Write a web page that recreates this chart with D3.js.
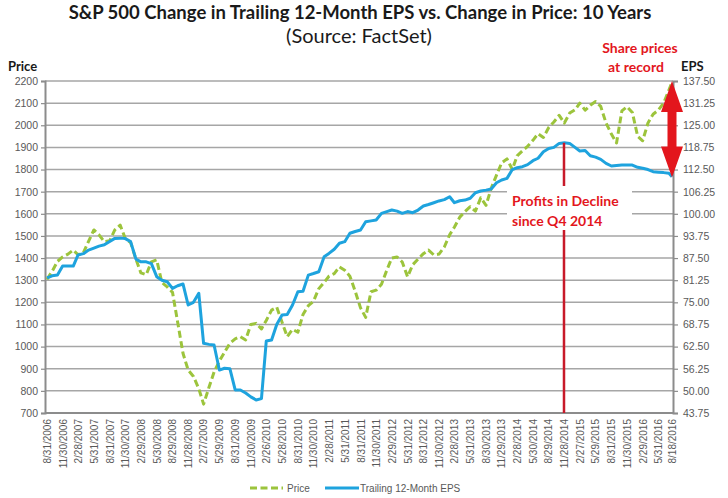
<!DOCTYPE html>
<html>
<head>
<meta charset="utf-8">
<script src="https://cdn.jsdelivr.net/npm/d3@7"></script>
<style>
  html, body { margin: 0; padding: 0; background: #ffffff; }
  svg { display: block; }
</style>
</head>
<body>
<svg id="chart" width="728" height="498"></svg>
<script>
// ---------------- DATA ----------------
// Month-end observations, Aug 2006 ... Jul 2016, plus 8/18/2016
const firstMonth = "2006-08";
const lastDate = "8/18/2016";

const priceValues = [
  1304, 1340, 1385, 1405, 1418, 1436, 1415, 1425, 1475, 1527, 1505, 1474,
  1478, 1527, 1549, 1488, 1470, 1395, 1333, 1325, 1383, 1392, 1290, 1270,
  1245, 1110, 970, 894, 865, 810, 740, 815, 885, 935, 975, 1015,
  1035, 1045, 1030, 1100, 1105, 1080, 1118, 1165, 1178, 1110, 1045, 1078,
  1065, 1145, 1185, 1205, 1262, 1290, 1318, 1330, 1360, 1345, 1318, 1250,
  1175, 1132, 1248, 1255, 1282, 1345, 1400, 1405, 1382, 1315, 1370, 1395,
  1420, 1436, 1414, 1418, 1450, 1505, 1540, 1585, 1610, 1632, 1612, 1672,
  1638, 1715, 1775, 1830, 1848, 1800, 1862, 1885, 1905, 1932, 1962, 1945,
  1990, 2015, 2045, 2010, 2055, 2070, 2100, 2068, 2090, 2107, 2085, 2010,
  1960, 1920, 2065, 2084, 2058, 1950, 1930, 2010, 2050, 2069, 2100, 2159,
  2195
];

const epsValues = [
  81.88, 82.50, 82.69, 85.25, 85.25, 85.25, 88.38, 88.75, 89.75, 90.31, 90.88, 91.25,
  92.19, 93.06, 93.13, 93.00, 92.13, 87.19, 86.44, 86.44, 85.94, 82.25, 81.25, 80.81,
  78.94, 79.69, 80.19, 74.25, 75.00, 77.56, 63.44, 63.13, 62.94, 55.88, 56.38, 56.25,
  50.25, 50.25, 49.38, 48.31, 47.44, 47.81, 64.06, 64.38, 68.75, 71.44, 71.56, 74.25,
  78.00, 78.13, 82.69, 83.13, 83.63, 87.88, 88.81, 90.00, 91.69, 92.13, 94.50, 95.00,
  95.44, 97.75, 98.00, 98.25, 100.13, 100.63, 101.06, 100.75, 100.13, 100.63, 100.31, 101.06,
  102.19, 102.63, 103.13, 103.63, 104.00, 104.81, 103.13, 103.69, 103.88, 104.38, 105.94, 106.44,
  106.69, 107.00, 108.75, 109.56, 110.00, 112.50, 113.00, 113.31, 113.88, 115.00, 115.69, 117.50,
  118.44, 118.75, 119.88, 120.06, 119.88, 118.75, 117.75, 117.88, 116.38, 116.00, 115.38, 114.25,
  113.50, 113.63, 113.75, 113.75, 113.75, 113.13, 112.88, 112.50, 111.88, 111.75, 111.63, 111.44,
  110.50
];

const xTickLabels = [
  "8/31/2006", "11/30/2006",
  "2/28/2007", "5/31/2007", "8/31/2007", "11/30/2007",
  "2/29/2008", "5/30/2008", "8/29/2008", "11/28/2008",
  "2/27/2009", "5/29/2009", "8/31/2009", "11/30/2009",
  "2/26/2010", "5/28/2010", "8/31/2010", "11/30/2010",
  "2/28/2011", "5/31/2011", "8/31/2011", "11/30/2011",
  "2/29/2012", "5/31/2012", "8/31/2012", "11/30/2012",
  "2/28/2013", "5/31/2013", "8/30/2013", "11/29/2013",
  "2/28/2014", "5/30/2014", "8/29/2014", "11/28/2014",
  "2/27/2015", "5/29/2015", "8/31/2015", "11/30/2015",
  "2/29/2016", "5/31/2016", "8/18/2016"
];

const priceTicks = [700, 800, 900, 1000, 1100, 1200, 1300, 1400, 1500, 1600, 1700, 1800, 1900, 2000, 2100, 2200];
const epsTicks = [43.75, 50.00, 56.25, 62.50, 68.75, 75.00, 81.25, 87.50, 93.75, 100.00, 106.25, 112.50, 118.75, 125.00, 131.25, 137.50];

const declineStart = "11/28/2014";
const seriesNames = ["Price", "Trailing 12-Month EPS"];

// ---------------- LAYOUT ----------------
const W = 728, H = 498;
const plot = { left: 45, right: 673, top: 81, bottom: 413 };
const parseDate = d3.timeParse("%m/%d/%Y");
const colors = { price: "#9cc43c", eps: "#1ea3de", grid: "#a6a6a6", axis: "#8c8c8c", text: "#595959", red: "#e3161d", darkRed: "#c81a2a" };
const FONT = "Lato, 'Liberation Sans', sans-serif";
const TICKFONT = "'Liberation Sans', Arial, sans-serif";

// Dates for the monthly points
const start = d3.timeParse("%Y-%m")(firstMonth);
const dates = priceValues.map((v, i) => {
  if (i === priceValues.length - 1) return parseDate(lastDate);
  return d3.timeDay.offset(d3.timeMonth.offset(start, i + 1), -1);
});
const data = dates.map((d, i) => ({ date: d, price: priceValues[i], eps: epsValues[i] }));

const x = d3.scaleTime()
  .domain([parseDate(xTickLabels[0]), parseDate(xTickLabels[xTickLabels.length - 1])])
  .range([plot.left + 2, plot.right - 1]);
const yP = d3.scaleLinear().domain([700, 2200]).range([plot.bottom, plot.top]);
const yE = d3.scaleLinear().domain([43.75, 137.5]).range([plot.bottom, plot.top]);

const svg = d3.select("#chart");
svg.append("rect").attr("width", W).attr("height", H).attr("fill", "#fff");

// Title
svg.append("text").attr("x", 360).attr("y", 19).attr("text-anchor", "middle")
  .attr("font-family", FONT).attr("font-weight", 700).attr("font-size", 18.5).attr("fill", "#1a1a1a")
  .text("S&P 500 Change in Trailing 12-Month EPS vs. Change in Price: 10 Years");
svg.append("text").attr("x", 359).attr("y", 43).attr("text-anchor", "middle")
  .attr("font-family", FONT).attr("font-size", 20).attr("fill", "#1a1a1a")
  .text("(Source: FactSet)");

// Gridlines
svg.append("g").selectAll("line").data(priceTicks).join("line")
  .attr("x1", plot.left).attr("x2", plot.right)
  .attr("y1", d => yP(d)).attr("y2", d => yP(d))
  .attr("stroke", colors.grid).attr("stroke-width", 1.5);

// Left axis
const leftAxis = d3.axisLeft(yP).tickValues(priceTicks).tickSize(4).tickPadding(3).tickFormat(d3.format("d"));
const gL = svg.append("g").attr("transform", `translate(${plot.left},0)`).call(leftAxis);
gL.select(".domain").attr("stroke", colors.axis).attr("stroke-width", 2);
gL.selectAll(".tick line").attr("stroke", colors.axis).attr("stroke-width", 1.2);
gL.selectAll(".tick text").attr("font-family", TICKFONT).attr("font-size", 10.5).attr("fill", colors.text);

// Right axis
const rightAxis = d3.axisRight(yE).tickValues(epsTicks).tickSize(5).tickPadding(5).tickFormat(d3.format(".2f"));
const gR = svg.append("g").attr("transform", `translate(${plot.right},0)`).call(rightAxis);
gR.select(".domain").attr("stroke", colors.axis).attr("stroke-width", 2);
gR.selectAll(".tick line").attr("stroke", colors.axis).attr("stroke-width", 1.2);
gR.selectAll(".tick text").attr("font-family", TICKFONT).attr("font-size", 10.5).attr("fill", colors.text);

// Bottom axis
const bottomAxis = d3.axisBottom(x).tickValues(xTickLabels.map(parseDate)).tickSize(0).tickPadding(0)
  .tickFormat((d, i) => xTickLabels[i]);
const gB = svg.append("g").attr("transform", `translate(0,${plot.bottom})`).call(bottomAxis);
gB.select(".domain").attr("stroke", colors.axis).attr("stroke-width", 2)
  .attr("d", `M${plot.left},0H${plot.right}`);
gB.selectAll(".tick text")
  .attr("font-family", TICKFONT).attr("font-size", 10).attr("fill", colors.text)
  .attr("text-anchor", "end").attr("dy", "0.35em")
  .attr("transform", "translate(0,6) rotate(-90)")
  .attr("x", 0).attr("y", 0);

// Axis titles
svg.append("text").attr("x", 8).attr("y", 71).attr("font-family", FONT).attr("font-weight", 700)
  .attr("font-size", 13).attr("fill", "#1a1a1a").text("Price");
svg.append("text").attr("x", 681).attr("y", 71).attr("font-family", FONT).attr("font-weight", 700)
  .attr("font-size", 13).attr("fill", "#1a1a1a").text("EPS");

// Lines
const priceLine = d3.line().x(d => x(d.date)).y(d => yP(d.price));
const epsLine = d3.line().x(d => x(d.date)).y(d => yE(d.eps));

svg.append("path").datum(data).attr("d", priceLine)
  .attr("fill", "none").attr("stroke", colors.price).attr("stroke-width", 3)
  .attr("stroke-dasharray", "7,3.5").attr("stroke-linejoin", "round");
svg.append("path").datum(data).attr("d", epsLine)
  .attr("fill", "none").attr("stroke", colors.eps).attr("stroke-width", 3)
  .attr("stroke-linejoin", "round");

// Red vertical marker at EPS peak
const declineX = x(parseDate(declineStart));
const peakEps = d3.max(epsValues);
svg.append("line").attr("x1", declineX).attr("x2", declineX)
  .attr("y1", yE(peakEps)).attr("y2", plot.bottom)
  .attr("stroke", colors.darkRed).attr("stroke-width", 2.5);

// Annotation box
svg.append("rect").attr("x", 507).attr("y", 186).attr("width", 125).attr("height", 44).attr("fill", "#fff");
svg.append("text").attr("x", 512).attr("y", 206).attr("font-family", FONT).attr("font-weight", 700)
  .attr("font-size", 14).attr("fill", colors.red).text("Profits in Decline");
svg.append("text").attr("x", 512).attr("y", 226).attr("font-family", FONT).attr("font-weight", 700)
  .attr("font-size", 14).attr("fill", colors.red).text("since Q4 2014");

// Share prices at record
svg.append("text").attr("x", 640).attr("y", 53).attr("text-anchor", "middle").attr("font-family", FONT)
  .attr("font-weight", 700).attr("font-size", 14).attr("fill", colors.red).text("Share prices");
svg.append("text").attr("x", 636).attr("y", 72).attr("text-anchor", "middle").attr("font-family", FONT)
  .attr("font-weight", 700).attr("font-size", 14).attr("fill", colors.red).text("at record");

// Double arrow between last price and last EPS
const ax = x(dates[dates.length - 1]);
const yTop = yP(priceValues[priceValues.length - 1]) - 1;
const yBot = yE(epsValues[epsValues.length - 1]) + 1;
const hw = 11, sw = 4.5, hh = 31;
const arrowPath = [
  [ax, yTop], [ax + hw, yTop + hh], [ax + sw, yTop + hh], [ax + sw, yBot - hh],
  [ax + hw, yBot - hh], [ax, yBot], [ax - hw, yBot - hh], [ax - sw, yBot - hh],
  [ax - sw, yTop + hh], [ax - hw, yTop + hh]
];
svg.append("path").attr("d", d3.line()(arrowPath) + "Z").attr("fill", colors.red);

// Legend
const lg = svg.append("g");
lg.append("line").attr("x1", 250).attr("x2", 283).attr("y1", 488).attr("y2", 488)
  .attr("stroke", colors.price).attr("stroke-width", 3).attr("stroke-dasharray", "7,3.5");
lg.append("text").attr("x", 287).attr("y", 491.5).attr("font-family", TICKFONT).attr("font-size", 10)
  .attr("fill", colors.text).text(seriesNames[0]);
lg.append("line").attr("x1", 325).attr("x2", 359).attr("y1", 488).attr("y2", 488)
  .attr("stroke", colors.eps).attr("stroke-width", 3);
lg.append("text").attr("x", 360).attr("y", 491.5).attr("font-family", TICKFONT).attr("font-size", 10)
  .attr("fill", colors.text).text(seriesNames[1]);
</script>
</body>
</html>
